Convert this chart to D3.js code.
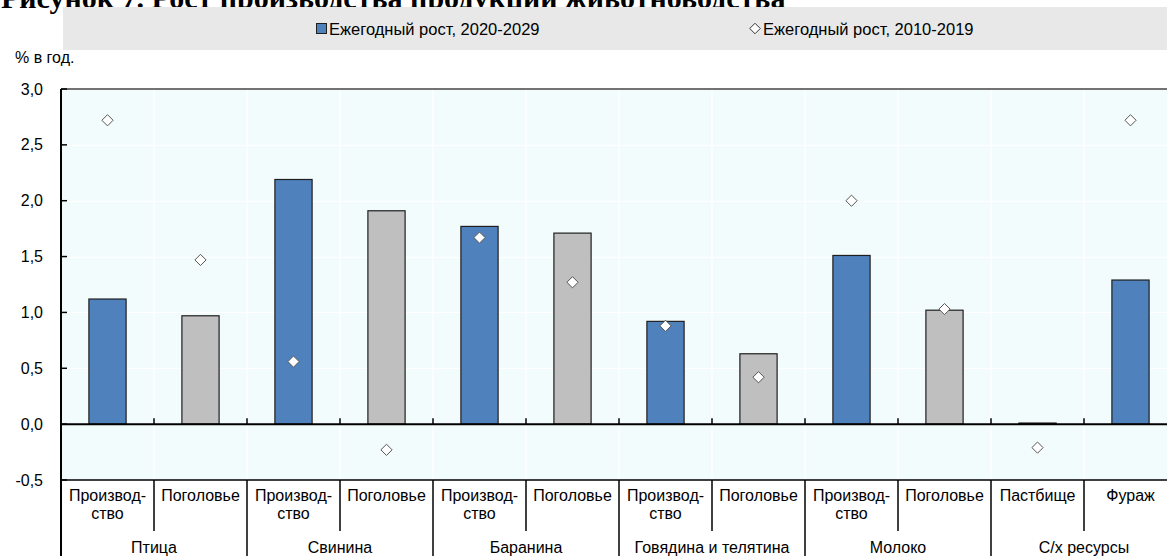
<!DOCTYPE html>
<html>
<head>
<meta charset="utf-8">
<script src="https://cdn.jsdelivr.net/npm/d3@7"></script>
<style>
  html, body { margin: 0; padding: 0; background: #ffffff; overflow: hidden; }
  svg { display: block; }
  text { font-family: "Liberation Sans", Arial, sans-serif; fill: #000; }
</style>
</head>
<body>
<svg id="chart" width="1167" height="556"></svg>
<script>
// Livestock production growth, % per year
const groups = ["Птица", "Свинина", "Баранина", "Говядина и телятина", "Молоко", "С/х ресурсы"];
const subLabels = [
  ["Производ-", "ство"], ["Поголовье"],
  ["Производ-", "ство"], ["Поголовье"],
  ["Производ-", "ство"], ["Поголовье"],
  ["Производ-", "ство"], ["Поголовье"],
  ["Производ-", "ство"], ["Поголовье"],
  ["Пастбище"], ["Фураж"]
];
const categoryGroup = [0, 0, 1, 1, 2, 2, 3, 3, 4, 4, 5, 5];
const growth2020_2029 = [1.12, 0.97, 2.19, 1.91, 1.77, 1.71, 0.92, 0.63, 1.51, 1.02, 0.01, 1.29];
const growth2010_2019 = [2.72, 1.47, 0.56, -0.23, 1.67, 1.27, 0.88, 0.42, 2.00, 1.03, -0.21, 2.72];
const yTicks = [-0.5, 0, 0.5, 1.0, 1.5, 2.0, 2.5, 3.0];
const seriesNames = ["Ежегодный рост, 2020-2029", "Ежегодный рост, 2010-2019"];
const titleText = "Рисунок 7. Рост производства продукции животноводства";
const unitLabel = "% в год.";

const svg = d3.select("#chart");
const W = 1167, H = 556;
const plot = { left: 61, right: 1177, top: 89, bottom: 480 };
const BLUE = "#4f81bd", GREY = "#bfbfbf", BG = "#f2fcfc";

const idx = d3.range(growth2020_2029.length);
const x = d3.scaleBand().domain(idx).range([plot.left, plot.right]).paddingInner(0).paddingOuter(0);
const y = d3.scaleLinear().domain([-0.5, 3.0]).range([plot.bottom, plot.top]);
const bw = x.bandwidth();
const fmt = v => d3.format(".1f")(v).replace(".", ",").replace("−", "-");

// Title (its upper part runs above the canvas edge)
svg.append("text")
  .attr("x", 1).attr("y", 8)
  .style("font-family", "'Liberation Serif', 'Times New Roman', serif")
  .style("font-weight", "bold").style("font-size", "30px")
  .text(titleText);

// Legend strip
svg.append("rect").attr("x", 63).attr("y", 7).attr("width", W - 63).attr("height", 43).attr("fill", "#e8e8e8");
const lg = svg.append("g");
lg.append("rect").attr("x", 316.5).attr("y", 23.5).attr("width", 10).attr("height", 10)
  .attr("fill", BLUE).attr("stroke", "#1f1f1f").attr("stroke-width", 1);
lg.append("text").attr("x", 329).attr("y", 34.5).style("font-size", "16.5px").text(seriesNames[0]);
lg.append("path").attr("d", d3.symbol(d3.symbolDiamond2, 70)())
  .attr("transform", "translate(755,28.5)")
  .attr("fill", "#fff").attr("stroke", "#333").attr("stroke-width", 1);
lg.append("text").attr("x", 763).attr("y", 34.5).style("font-size", "16.5px").text(seriesNames[1]);

// Unit label
svg.append("text").attr("x", 15).attr("y", 63).style("font-size", "16px").text(unitLabel);

// Plot background
svg.append("rect").attr("x", plot.left).attr("y", plot.top)
  .attr("width", plot.right - plot.left).attr("height", plot.bottom - plot.top).attr("fill", BG);

// Grid
const grid = svg.append("g").attr("stroke", "#ffffff").attr("stroke-width", 1.2);
grid.selectAll("line.h").data(yTicks.filter(t => t !== 0 && t !== -0.5 && t !== 3.0)).join("line")
  .attr("x1", plot.left).attr("x2", plot.right)
  .attr("y1", d => Math.round(y(d)) + 0.5).attr("y2", d => Math.round(y(d)) + 0.5);
grid.selectAll("line.v").data(idx.slice(1)).join("line")
  .attr("x1", d => x(d)).attr("x2", d => x(d))
  .attr("y1", plot.top).attr("y2", plot.bottom);

// Bars
svg.append("g").selectAll("rect").data(idx).join("rect")
  .attr("x", i => x(i) + bw * 0.3)
  .attr("width", bw * 0.4)
  .attr("y", i => y(Math.max(0, growth2020_2029[i])))
  .attr("height", i => Math.abs(y(growth2020_2029[i]) - y(0)))
  .attr("fill", i => subLabels[i][0] === "Поголовье" ? GREY : BLUE)
  .attr("stroke", "#1f1f1f").attr("stroke-width", 1.2);

// Zero line and its ticks at category boundaries
svg.append("line").attr("x1", plot.left).attr("x2", plot.right)
  .attr("y1", y(0)).attr("y2", y(0)).attr("stroke", "#000").attr("stroke-width", 2);
svg.append("g").selectAll("line").data(idx.slice(1)).join("line")
  .attr("x1", d => x(d)).attr("x2", d => x(d))
  .attr("y1", y(0)).attr("y2", y(0) - 6)
  .attr("stroke", "#000").attr("stroke-width", 1.5);

// Markers for the previous decade
svg.append("g").selectAll("path").data(idx).join("path")
  .attr("d", d3.symbol(d3.symbolDiamond2, 80)())
  .attr("transform", i => `translate(${x(i) + bw / 2},${y(growth2010_2019[i])})`)
  .attr("fill", "#fff").attr("stroke", "#555").attr("stroke-width", 1);

// Frame
svg.append("line").attr("x1", plot.left).attr("x2", plot.right)
  .attr("y1", plot.top).attr("y2", plot.top).attr("stroke", "#444").attr("stroke-width", 1.5);
svg.append("line").attr("x1", plot.left).attr("x2", plot.right)
  .attr("y1", plot.bottom).attr("y2", plot.bottom).attr("stroke", "#000").attr("stroke-width", 1.5);

// Y axis
const yAxis = d3.axisLeft(y).tickValues(yTicks).tickSize(0).tickPadding(0).tickFormat(fmt);
const ya = svg.append("g").attr("transform", `translate(${plot.left},0)`).call(yAxis);
ya.select(".domain").remove();
ya.selectAll("text").attr("x", -18).style("font-size", "16px")
  .style("font-family", "'Liberation Sans', Arial, sans-serif").attr("fill", "#000");
svg.append("g").selectAll("line").data(yTicks).join("line")
  .attr("x1", plot.left).attr("x2", plot.left + 6)
  .attr("y1", d => y(d)).attr("y2", d => y(d))
  .attr("stroke", "#000").attr("stroke-width", 1.5);
svg.append("line").attr("x1", plot.left).attr("x2", plot.left)
  .attr("y1", plot.top).attr("y2", H).attr("stroke", "#000").attr("stroke-width", 2);

// Category label area
const lab = svg.append("g");
lab.selectAll("line.sub").data(idx.slice(1)).join("line")
  .attr("x1", d => x(d)).attr("x2", d => x(d))
  .attr("y1", plot.bottom)
  .attr("y2", d => categoryGroup[d] !== categoryGroup[d - 1] ? H : 531)
  .attr("stroke", "#000").attr("stroke-width", 1.5);
lab.selectAll("text.sub").data(idx).join("text")
  .attr("text-anchor", "middle").style("font-size", "16px")
  .attr("x", i => x(i) + bw / 2)
  .attr("y", 501)
  .each(function (i) {
    const t = d3.select(this);
    subLabels[i].forEach((s, k) => {
      t.append("tspan").attr("x", x(i) + bw / 2).attr("dy", k === 0 ? 0 : 18).text(s);
    });
  });
lab.selectAll("text.grp").data(groups).join("text")
  .attr("text-anchor", "middle").style("font-size", "16px")
  .attr("x", (g, gi) => {
    const members = idx.filter(i => categoryGroup[i] === gi);
    return (x(members[0]) + x(members[members.length - 1]) + bw) / 2;
  })
  .attr("y", 553)
  .text(g => g);
</script>
</body>
</html>
